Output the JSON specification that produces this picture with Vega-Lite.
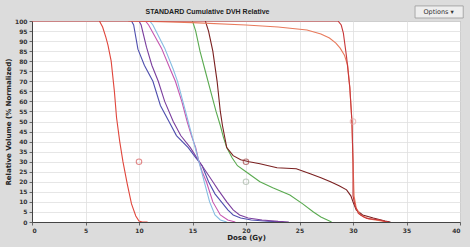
{
  "$schema": "https://vega.github.io/schema/vega-lite/v6.json",
  "autosize": "none",
  "width": 428,
  "height": 201,
  "padding": {"left": 32, "top": 21, "right": 10, "bottom": 25},
  "background": "#dcdcdc",
  "config": {
    "view": {"fill": "white", "stroke": "#888"},
    "axis": {"labelFontSize": 6, "labelFont": "DejaVu Sans", "labelFontWeight": "bold", "labelColor": "#333", "labelOverlap": false, "titleFont": "DejaVu Sans", "titleFontSize": 7, "titleFontWeight": "bold", "titleColor": "#222", "gridColor": "#e0e0e0", "gridWidth": 0.8, "domainColor": "#444", "tickColor": "#666", "tickSize": 3}
  },
  "datasets": {
    "curves": [
      {"s":"R1","d":6.3,"v":100},{"s":"R1","d":6.6,"v":97},{"s":"R1","d":6.9,"v":92},{"s":"R1","d":7.1,"v":88},{"s":"R1","d":7.4,"v":80},{"s":"R1","d":7.7,"v":65},{"s":"R1","d":7.9,"v":52},{"s":"R1","d":8.2,"v":40},{"s":"R1","d":8.5,"v":30},{"s":"R1","d":8.9,"v":19},{"s":"R1","d":9.3,"v":9},{"s":"R1","d":9.7,"v":3},{"s":"R1","d":10.0,"v":0.5},{"s":"R1","d":10.3,"v":0},{"s":"R1","d":10.8,"v":0},
      {"s":"A","d":9.3,"v":100},{"s":"A","d":9.5,"v":98},{"s":"A","d":9.9,"v":86},{"s":"A","d":10.5,"v":78},{"s":"A","d":11.3,"v":70},{"s":"A","d":12.0,"v":58},{"s":"A","d":12.8,"v":50},{"s":"A","d":13.5,"v":43},{"s":"A","d":14.6,"v":37},{"s":"A","d":15.3,"v":32},{"s":"A","d":15.9,"v":28},{"s":"A","d":16.5,"v":20},{"s":"A","d":17.1,"v":14},{"s":"A","d":17.7,"v":10},{"s":"A","d":18.3,"v":6},{"s":"A","d":18.8,"v":3.5},{"s":"A","d":19.5,"v":2},{"s":"A","d":20.5,"v":1},{"s":"A","d":22,"v":0.4},{"s":"A","d":23.5,"v":0},
      {"s":"B","d":10.0,"v":100},{"s":"B","d":10.2,"v":98},{"s":"B","d":10.7,"v":87},{"s":"B","d":11.2,"v":78},{"s":"B","d":11.8,"v":70},{"s":"B","d":12.4,"v":60},{"s":"B","d":13.2,"v":50},{"s":"B","d":13.9,"v":43},{"s":"B","d":14.8,"v":37},{"s":"B","d":15.4,"v":32},{"s":"B","d":15.9,"v":28},{"s":"B","d":16.4,"v":24},{"s":"B","d":16.9,"v":20},{"s":"B","d":17.4,"v":16},{"s":"B","d":17.8,"v":13},{"s":"B","d":18.2,"v":10},{"s":"B","d":18.8,"v":6},{"s":"B","d":19.4,"v":3.5},{"s":"B","d":20.2,"v":2},{"s":"B","d":21.5,"v":1},{"s":"B","d":23,"v":0.3},{"s":"B","d":24,"v":0},
      {"s":"C","d":10.6,"v":100},{"s":"C","d":10.9,"v":98},{"s":"C","d":12.1,"v":86.5},{"s":"C","d":13.0,"v":75},{"s":"C","d":13.4,"v":70},{"s":"C","d":14.0,"v":60},{"s":"C","d":14.5,"v":50},{"s":"C","d":14.9,"v":43},{"s":"C","d":15.3,"v":37},{"s":"C","d":15.6,"v":30},{"s":"C","d":15.9,"v":25},{"s":"C","d":16.3,"v":20},{"s":"C","d":16.9,"v":10},{"s":"C","d":17.6,"v":3.5},{"s":"C","d":18.3,"v":1},{"s":"C","d":19,"v":0},
      {"s":"D","d":11.0,"v":100},{"s":"D","d":11.3,"v":98},{"s":"D","d":12.4,"v":86.5},{"s":"D","d":13.2,"v":76},{"s":"D","d":13.6,"v":70},{"s":"D","d":14.1,"v":60},{"s":"D","d":14.5,"v":52},{"s":"D","d":14.8,"v":46},{"s":"D","d":15.2,"v":38},{"s":"D","d":15.5,"v":32},{"s":"D","d":15.7,"v":28},{"s":"D","d":16.1,"v":20},{"s":"D","d":16.6,"v":10},{"s":"D","d":17.1,"v":3.5},{"s":"D","d":17.6,"v":1},{"s":"D","d":18.2,"v":0},
      {"s":"G","d":15.0,"v":100},{"s":"G","d":15.3,"v":95},{"s":"G","d":15.7,"v":85},{"s":"G","d":16.2,"v":75},{"s":"G","d":16.7,"v":65},{"s":"G","d":17.2,"v":55},{"s":"G","d":17.6,"v":48},{"s":"G","d":17.9,"v":42},{"s":"G","d":18.2,"v":37},{"s":"G","d":18.7,"v":32},{"s":"G","d":19.2,"v":28},{"s":"G","d":20.0,"v":25},{"s":"G","d":21.3,"v":20},{"s":"G","d":22.5,"v":17},{"s":"G","d":24.1,"v":13.4},{"s":"G","d":25.3,"v":9},{"s":"G","d":26.3,"v":5},{"s":"G","d":27.0,"v":2.5},{"s":"G","d":27.6,"v":1},{"s":"G","d":28.0,"v":0},
      {"s":"BR","d":16.2,"v":100},{"s":"BR","d":16.5,"v":95},{"s":"BR","d":16.9,"v":85},{"s":"BR","d":17.3,"v":70},{"s":"BR","d":17.6,"v":55},{"s":"BR","d":17.8,"v":48},{"s":"BR","d":18.2,"v":37},{"s":"BR","d":18.8,"v":33},{"s":"BR","d":19.5,"v":31},{"s":"BR","d":20.3,"v":30},{"s":"BR","d":21.3,"v":29},{"s":"BR","d":22.9,"v":27},{"s":"BR","d":24.7,"v":26.5},{"s":"BR","d":26,"v":24},{"s":"BR","d":27.0,"v":22},{"s":"BR","d":27.9,"v":20},{"s":"BR","d":28.7,"v":18},{"s":"BR","d":29.4,"v":16},{"s":"BR","d":29.8,"v":13},{"s":"BR","d":30,"v":10},{"s":"BR","d":30.3,"v":6},{"s":"BR","d":30.9,"v":3.5},{"s":"BR","d":31.9,"v":2},{"s":"BR","d":33,"v":0.5},{"s":"BR","d":33.5,"v":0},
      {"s":"O","d":9,"v":100},{"s":"O","d":12,"v":99.7},{"s":"O","d":15,"v":99.2},{"s":"O","d":20,"v":98},{"s":"O","d":23,"v":97},{"s":"O","d":25.7,"v":95.5},{"s":"O","d":27,"v":93.5},{"s":"O","d":27.8,"v":91.5},{"s":"O","d":28.4,"v":89},{"s":"O","d":28.8,"v":86.5},{"s":"O","d":29.2,"v":83},{"s":"O","d":29.5,"v":78},{"s":"O","d":29.7,"v":67},{"s":"O","d":29.9,"v":50},{"s":"O","d":30.0,"v":30},{"s":"O","d":30.1,"v":13},{"s":"O","d":30.3,"v":7},{"s":"O","d":30.7,"v":3.5},{"s":"O","d":31.5,"v":1.5},{"s":"O","d":32.5,"v":0.7},{"s":"O","d":33.2,"v":0},
      {"s":"P","d":0,"v":100},{"s":"P","d":28.6,"v":100},{"s":"P","d":28.9,"v":98},{"s":"P","d":29.1,"v":94},{"s":"P","d":29.4,"v":82},{"s":"P","d":29.7,"v":67},{"s":"P","d":29.9,"v":50},{"s":"P","d":30.0,"v":30},{"s":"P","d":30.0,"v":13},{"s":"P","d":30.2,"v":8},{"s":"P","d":30.5,"v":4.3},{"s":"P","d":31.0,"v":2.5},{"s":"P","d":31.3,"v":1.8},{"s":"P","d":32.5,"v":1},{"s":"P","d":33,"v":0.3},{"s":"P","d":33.3,"v":0}
    ],
    "markers": [
      {"m":"R1","d":10,"v":30},
      {"m":"BR","d":20,"v":30},
      {"m":"G","d":20,"v":20},
      {"m":"P","d":30,"v":50}
    ],
    "button": [{"label":"Options ▾","x1":35.8,"x2":40.3,"y1":101.5,"y2":107.5,"xc":38.0,"yc":104.5}],
    "heading": [{"label":"STANDARD Cumulative DVH Relative","xc":16.4,"yc":104.6}]
  },
  "layer": [
    {
      "data": {"name": "curves"},
      "mark": {"type": "line", "strokeWidth": 1.1, "clip": true},
      "encoding": {
        "x": {"field": "d", "type": "quantitative", "scale": {"domain": [0, 40], "nice": false}, "axis": {"values": [0,5,10,15,20,25,30,35,40], "title": "Dose (Gy)", "titlePadding": 0, "labelPadding": 2}},
        "y": {"field": "v", "type": "quantitative", "scale": {"domain": [0, 100], "nice": false}, "axis": {"values": [0,5,10,15,20,25,30,35,40,45,50,55,60,65,70,75,80,85,90,95,100], "title": "Relative Volume (% Normalized)", "titlePadding": 3, "labelPadding": 2}},
        "color": {"field": "s", "type": "nominal", "legend": null, "scale": {"domain": ["R1","A","B","C","D","G","BR","O","P"], "range": ["#e0463c","#4f4fae","#7b3f9e","#c656b0","#86bde2","#5aaa50","#7a2020","#e87a5c","#c8383a"]}},
        "detail": {"field": "s"},
        "order": {"field": "d"}
      }
    },
    {
      "data": {"name": "markers"},
      "mark": {"type": "point", "shape": "circle", "filled": false, "size": 30, "strokeWidth": 1.1},
      "encoding": {
        "x": {"field": "d", "type": "quantitative", "axis": {"values": [0,5,10,15,20,25,30,35,40], "title": "Dose (Gy)", "titlePadding": 0, "labelPadding": 2}},
        "y": {"field": "v", "type": "quantitative", "axis": {"values": [0,5,10,15,20,25,30,35,40,45,50,55,60,65,70,75,80,85,90,95,100], "title": "Relative Volume (% Normalized)", "titlePadding": 3, "labelPadding": 2}},
        "color": {"field": "m", "type": "nominal", "legend": null, "scale": {"domain": ["R1","BR","G","P"], "range": ["#d85a5a","#a04040","#a8b8a8","#e8a8a8"]}}
      }
    },
    {
      "data": {"name": "button"},
      "mark": {"type": "rect", "fill": "#eeeeee", "stroke": "#999", "strokeWidth": 0.8, "clip": false},
      "encoding": {
        "x": {"field": "x1", "type": "quantitative", "axis": {"values": [0,5,10,15,20,25,30,35,40], "title": "Dose (Gy)", "titlePadding": 0, "labelPadding": 2}},
        "x2": {"field": "x2"},
        "y": {"field": "y1", "type": "quantitative", "axis": {"values": [0,5,10,15,20,25,30,35,40,45,50,55,60,65,70,75,80,85,90,95,100], "title": "Relative Volume (% Normalized)", "titlePadding": 3, "labelPadding": 2}},
        "y2": {"field": "y2"}
      }
    },
    {
      "data": {"name": "button"},
      "mark": {"type": "text", "fontSize": 6.5, "font": "DejaVu Sans", "color": "#333", "clip": false},
      "encoding": {
        "x": {"field": "xc", "type": "quantitative", "axis": {"values": [0,5,10,15,20,25,30,35,40], "title": "Dose (Gy)", "titlePadding": 0, "labelPadding": 2}},
        "y": {"field": "yc", "type": "quantitative", "axis": {"values": [0,5,10,15,20,25,30,35,40,45,50,55,60,65,70,75,80,85,90,95,100], "title": "Relative Volume (% Normalized)", "titlePadding": 3, "labelPadding": 2}},
        "text": {"field": "label"}
      }
    },
    {
      "data": {"name": "heading"},
      "mark": {"type": "text", "fontSize": 7, "fontWeight": "bold", "font": "Liberation Sans", "color": "#222", "clip": false},
      "encoding": {
        "x": {"field": "xc", "type": "quantitative", "axis": {"values": [0,5,10,15,20,25,30,35,40], "title": "Dose (Gy)", "titlePadding": 0, "labelPadding": 2}},
        "y": {"field": "yc", "type": "quantitative", "axis": {"values": [0,5,10,15,20,25,30,35,40,45,50,55,60,65,70,75,80,85,90,95,100], "title": "Relative Volume (% Normalized)", "titlePadding": 3, "labelPadding": 2}},
        "text": {"field": "label"}
      }
    }
  ],
  "resolve": {"scale": {"color": "independent"}}
}
